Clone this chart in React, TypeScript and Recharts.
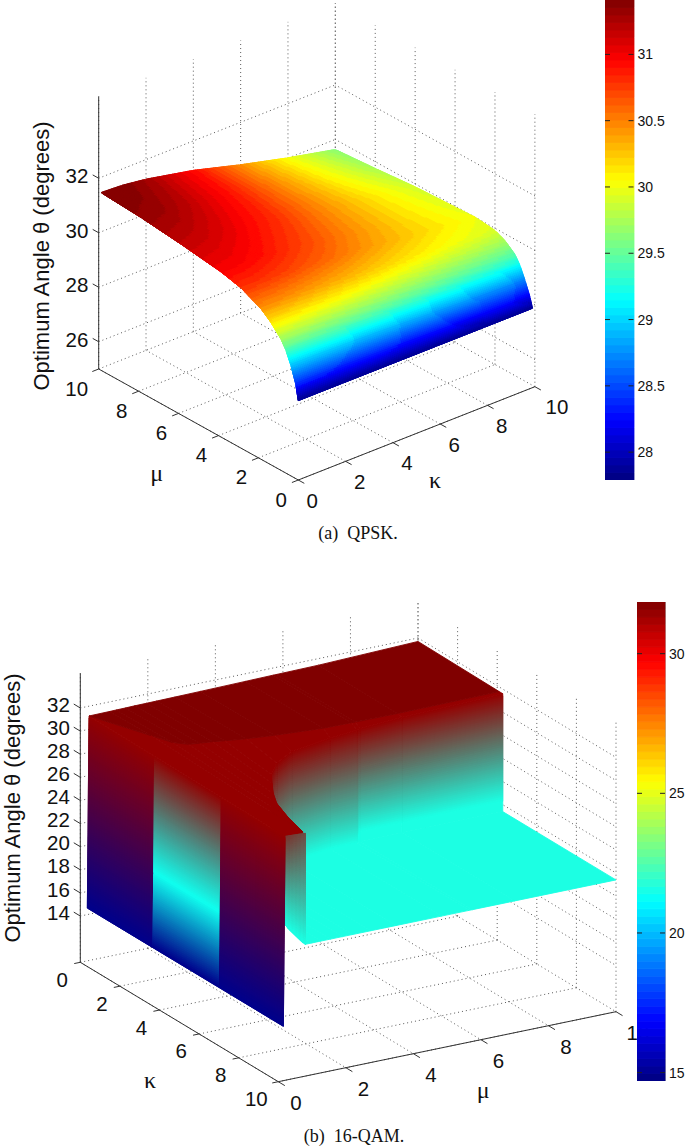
import React from 'react';
import { ScatterChart, Scatter, XAxis, YAxis, BarChart, Bar, ReferenceLine, ReferenceArea } from 'recharts';

// ---------- Panel (a) QPSK: theta over (mu, kappa) ----------
const muGridA = [0.12, 0.25, 0.5, 0.75, 1, 1.5, 2, 3, 4, 6, 8, 10];
const kappaGridA = [0.1, 1, 2, 4, 6, 8, 10];
const thetaA = [
  [27.83, 27.83, 27.83, 27.83, 27.83, 27.83, 27.83],
  [28.4, 28.4, 28.38, 28.34, 28.29, 28.24, 28.2],
  [29.0, 28.99, 28.97, 28.92, 28.84, 28.77, 28.71],
  [29.45, 29.44, 29.42, 29.36, 29.29, 29.21, 29.15],
  [29.75, 29.74, 29.72, 29.66, 29.59, 29.51, 29.45],
  [30.15, 30.14, 30.11, 30.03, 29.93, 29.83, 29.75],
  [30.45, 30.44, 30.4, 30.3, 30.16, 30.03, 29.92],
  [30.8, 30.78, 30.73, 30.57, 30.36, 30.17, 30.0],
  [30.98, 30.96, 30.89, 30.68, 30.42, 30.17, 29.96],
  [31.18, 31.15, 31.06, 30.81, 30.47, 30.16, 29.89],
  [31.34, 31.31, 31.2, 30.88, 30.47, 30.08, 29.75],
  [31.44, 31.4, 31.28, 30.92, 30.44, 30.01, 29.63],
];
const axisTicks = [0, 2, 4, 6, 8, 10];
const zTicksA = [26, 28, 30, 32];
const barTicksA = [28, 28.5, 29, 29.5, 30, 30.5, 31];

// ---------- Panel (b) 16-QAM: a high plateau, a step, a low plateau, a front wall ----------
const stepMu = [10, 7, 5.75, 5.65, 4.83, 3.5, 2.74, 2.2, 1.9, 1.55, 1.265, 1.0, 0.8];
const stepKappa = [4.28, 4.3, 4.32, 4.33, 4.38, 4.7, 5.25, 5.9, 6.43, 7.1, 7.76, 8.8, 9.87];
const bandKappa = [4.1, 4.08, 4.07, 4.06, 4.04, 3.85, 3.7, 3.55, 3.45, 3.38, 3.3, 2.95, 2.2];
const farKappa = [0, 0.1, 0.1, 0.1, 0.1, 0.1, 0.1, 0.1, 0.1, 0.1, 0.1, 0.1, 0.1];
const highTheta = [31.6, 31.4, 31.2, 31.15, 31.0, 31.0, 31.0, 31.0, 31.0, 31.0, 31.0, 31.0, 31.0];
const farTheta = [31.7, 31.57, 31.52, 31.52, 31.48, 31.42, 31.39, 31.37, 31.36, 31.35, 31.33, 31.32, 31.31];
const bandTheta = [31.6, 31.5, 31.5, 31.5, 31.5, 31.5, 31.5, 31.5, 31.5, 31.5, 31.5, 31.45, 31.4];
const kneeTheta = [22.3, 22.3, 22.3, 21.4, 21.4, 21.4, 21.4, 21.4, 21.4, 21.4, 21.4, 21.4, 21.4];
const lowTheta = 21.4;
const edgeMu = 0.2;
const wallBottomMu = 0.15;
const edgeFarTheta = 31.29;
const edgeTheta = 31.1;
const wallBottomTheta = 14.7;
const wallKappa = [0.1, 3.41, 6.78, 10];
const wallTopTheta = [31.29, 31.22, 31.16, 31.1];
const wallMidTheta = [null, 21.2, null];
const zTicksB = [14, 16, 18, 20, 22, 24, 26, 28, 30, 32];
const barTicksB = [15, 20, 25, 30];

const viewA = { ox: 298.3, oy: 480, muX: -19.96, muY: -11.1, kX: 23.66, kY: -9.33, zY: -27.25, z0: 25, zTop: 35 };
const viewB = { ox: 80.3, oy: 962.3, muX: 33.77, muY: -7.0, kX: 19.8, kY: 11.94, zY: -11.56, z0: 10, zTop: 35 };

type V = { mu: number; kappa: number; theta: number; shade?: number; mix?: number };

const project = (w: any, mu: number, kappa: number, theta: number) => ({
  x: w.ox + w.muX * mu + w.kX * kappa,
  y: w.oy + w.muY * mu + w.kY * kappa + w.zY * (theta - w.z0),
});

const clamp = (v: number) => Math.max(0, Math.min(1, v));
const jet = (f: number): number[] => [
  clamp(Math.min(4 * f - 1.5, -4 * f + 4.5)),
  clamp(Math.min(4 * f - 0.5, -4 * f + 3.5)),
  clamp(Math.min(4 * f + 0.5, -4 * f + 2.5)),
];
const css = (c: number[]) => `rgb(${Math.round(c[0] * 255)},${Math.round(c[1] * 255)},${Math.round(c[2] * 255)})`;

const climA = [27.79, 31.41];
const climB = [14.5, 31.65];
const darkShade = 31.65;
const lightShade = 31.3;
const bandColor = (theta: number) => {
  const f = (theta - climA[0]) / (climA[1] - climA[0]);
  const i = Math.max(0, Math.min(63, Math.floor(f * 64)));
  return css(jet((i + 0.5) / 64));
};
const jetB = (s: number) => jet(clamp((s - climB[0]) / (climB[1] - climB[0])));
const vertexColor = (v: V) => {
  if (v.mix != null) {
    const l = jetB(lightShade), c = jetB(lowTheta);
    return l.map((x, i) => x + (c[i] - x) * (v.mix as number));
  }
  return jetB(v.shade ?? v.theta);
};

function bilinear(a: number, b: number, c: number, d: number, u: number, t: number) {
  return a * (1 - u) * (1 - t) + b * u * (1 - t) + c * u * t + d * (1 - u) * t;
}

// One mesh face, drawn as a patch of small flat-coloured polygons, each
// overlapping the next so that no background leaks through between them.
function patch(w: any, q: V[], banded: boolean, step: number) {
  const [a, b, c, d] = q;
  const P = q.map((v) => project(w, v.mu, v.kappa, v.theta));
  const dist = (p: any, r: any) => Math.hypot(p.x - r.x, p.y - r.y);
  const col = q.map(vertexColor);
  const same = (m: number[], n: number[]) => m.every((x, i) => Math.abs(x - n[i]) < 1e-6);
  let nu = Math.max(1, Math.ceil(Math.max(dist(P[0], P[1]), dist(P[3], P[2])) / step));
  let nv = Math.max(1, Math.ceil(Math.max(dist(P[0], P[3]), dist(P[1], P[2])) / step));
  if (!banded && same(col[0], col[1]) && same(col[3], col[2])) nu = 1;
  if (!banded && same(col[0], col[3]) && same(col[1], col[2])) nv = 1;
  const at = (u: number, t: number) =>
    project(
      w,
      bilinear(a.mu, b.mu, c.mu, d.mu, u, t),
      bilinear(a.kappa, b.kappa, c.kappa, d.kappa, u, t),
      bilinear(a.theta, b.theta, c.theta, d.theta, u, t),
    );
  const polys: { pts: number[][]; fill: string }[] = [];
  for (let i = 0; i < nu; i++) {
    for (let j = 0; j < nv; j++) {
      const u0 = i / nu, u1 = Math.min(1, (i + 2) / nu), t0 = j / nv, t1 = Math.min(1, (j + 2) / nv);
      const um = (i + 0.5) / nu, tm = (j + 0.5) / nv;
      const corners = [at(u0, t0), at(u1, t0), at(u1, t1), at(u0, t1)].map((p) => [p.x, p.y]);
      const fill = banded
        ? bandColor(bilinear(a.theta, b.theta, c.theta, d.theta, um, tm))
        : css([0, 1, 2].map((k) => bilinear(col[0][k], col[1][k], col[2][k], col[3][k], um, tm)));
      polys.push({ pts: corners, fill });
    }
  }
  const centre = at(0.5, 0.5);
  return { x: centre.x, y: centre.y, polys };
}

const PatchShape = (props: any) => {
  const { cx, cy, payload } = props;
  const dx = cx - payload.x;
  const dy = cy - payload.y;
  return (
    <g>
      {payload.polys.map((p: any, i: number) => (
        <polygon
          key={i}
          points={p.pts.map((r: number[]) => `${(r[0] + dx).toFixed(2)},${(r[1] + dy).toFixed(2)}`).join(' ')}
          fill={p.fill}
          stroke={p.fill}
          strokeWidth={0.9}
        />
      ))}
    </g>
  );
};

const SegShape = (stroke: string, dash?: string) => (props: any) => {
  const { cx, cy, payload } = props;
  return (
    <line
      x1={cx}
      y1={cy}
      x2={cx + payload.x2 - payload.x}
      y2={cy + payload.y2 - payload.y}
      stroke={stroke}
      strokeWidth={1}
      strokeDasharray={dash}
    />
  );
};
const dottedShape = SegShape('#5a5a5a', '1 3');
const solidShape = SegShape('#333333');

const TextShape = (props: any) => {
  const { cx, cy, payload } = props;
  return (
    <text
      x={cx}
      y={cy}
      dy={payload.rotate ? 0 : '.35em'}
      textAnchor={payload.anchor ?? 'middle'}
      fontFamily={payload.family ?? '"Liberation Sans"'}
      fontSize={payload.size ?? 20.5}
      fill="#111"
      transform={payload.rotate ? `rotate(-90 ${cx} ${cy})` : undefined}
      style={{ whiteSpace: 'pre' }}
    >
      {payload.text}
    </text>
  );
};

const seg = (w: any, p: number[], r: number[]) => {
  const s = project(w, p[0], p[1], p[2]);
  const e = project(w, r[0], r[1], r[2]);
  return { x: s.x, y: s.y, x2: e.x, y2: e.y };
};

function gridSegments(w: any, zTicks: number[], wallM: number, wallK: number) {
  const out: any[] = [];
  axisTicks.forEach((t) => {
    out.push(seg(w, [t, 0, w.z0], [t, 10, w.z0]));
    out.push(seg(w, [0, t, w.z0], [10, t, w.z0]));
    out.push(seg(w, [t, wallK, w.z0], [t, wallK, w.zTop]));
    out.push(seg(w, [wallM, t, w.z0], [wallM, t, w.zTop]));
  });
  zTicks.forEach((z) => {
    out.push(seg(w, [wallM, 0, z], [wallM, 10, z]));
    out.push(seg(w, [0, wallK, z], [10, wallK, z]));
  });
  return out;
}

// ---------- Panel (a) marks ----------
const gridA = gridSegments(viewA, zTicksA, 10, 10);
const axesA = [
  seg(viewA, [10, 0, 25], [10, 0, 35]),
  seg(viewA, [10, 0, 25], [0, 0, 25]),
  seg(viewA, [0, 0, 25], [0, 10, 25]),
  ...axisTicks.map((t) => seg(viewA, [t, 0, 25], [t, -0.27, 25])),
  ...axisTicks.map((t) => seg(viewA, [0, t, 25], [-0.3, t, 25])),
  ...zTicksA.map((z) => seg(viewA, [10, 0, z], [10.3, 0, z])),
];
const surfaceA: any[] = [];
for (let i = muGridA.length - 2; i >= 0; i--) {
  for (let j = kappaGridA.length - 2; j >= 0; j--) {
    const v = (r: number, c: number): V => ({ mu: muGridA[r], kappa: kappaGridA[c], theta: thetaA[r][c] });
    surfaceA.push(patch(viewA, [v(i + 1, j + 1), v(i + 1, j), v(i, j), v(i, j + 1)], true, 2));
  }
}
const labelsA: any[] = [
  ...zTicksA.map((z) => {
    const p = project(viewA, 10, 0, z);
    return { x: p.x - 10.4, y: p.y - 2, text: String(z), anchor: 'end' };
  }),
  ...axisTicks.map((t) => {
    const p = project(viewA, t, 0, 25);
    return { x: p.x - (t === 10 ? 22 : 17), y: p.y + 19.5, text: String(t) };
  }),
  ...axisTicks.map((t) => {
    const p = project(viewA, 0, t, 25);
    return { x: p.x + (t === 10 ? 22 : 14), y: p.y + 20.4, text: String(t) };
  }),
  { x: 156.7, y: 473, text: 'μ', family: '"Liberation Serif"', size: 24 },
  { x: 435, y: 480, text: 'κ', family: '"Liberation Serif"', size: 24 },
  { x: 49, y: 256, text: 'Optimum Angle θ (degrees)', rotate: true, size: 22 },
  { x: 358, y: 533, text: '(a)  QPSK.', family: '"Liberation Serif"', size: 18 },
];

// ---------- Panel (b) marks ----------
const gridB = gridSegments(viewB, zTicksB, 10, 0);
const axesB = [
  seg(viewB, [0, 0, 10], [0, 0, 35]),
  seg(viewB, [0, 0, 10], [0, 10, 10]),
  seg(viewB, [0, 10, 10], [10, 10, 10]),
  ...axisTicks.map((t) => seg(viewB, [0, t, 10], [-0.18, t, 10])),
  ...axisTicks.map((t) => seg(viewB, [t, 10, 10], [t, 10.33, 10])),
  ...zTicksB.map((z) => seg(viewB, [0, 0, z], [0, -0.33, z])),
];
const surfaceB: any[] = [];
{
  const last = stepMu.length - 1;
  const rows = stepMu
    .map((m, i) => ({ mu: m, fk: farKappa[i], kb: bandKappa[i], ks: stepKappa[i], th: highTheta[i], far: farTheta[i], band: bandTheta[i], knee: kneeTheta[i] }))
    .concat([{ mu: edgeMu, fk: 0.1, kb: 0.1, ks: 10, th: edgeTheta, far: edgeFarTheta, band: edgeFarTheta, knee: lowTheta }]);
  // step wall down to the low plateau (drawn first: its far side lies under the high plateau)
  for (let i = 0; i < last; i++) {
    const r = rows[i], n = rows[i + 1];
    surfaceB.push(
      patch(viewB, [
        { mu: r.mu, kappa: r.ks, theta: r.th, shade: lightShade },
        { mu: n.mu, kappa: n.ks, theta: n.th, shade: lightShade },
        { mu: n.mu, kappa: n.ks, theta: n.knee, shade: lowTheta },
        { mu: r.mu, kappa: r.ks, theta: r.knee, shade: lowTheta },
      ], false, 2),
    );
    surfaceB.push(
      patch(viewB, [
        { mu: r.mu, kappa: r.ks, theta: r.knee, shade: lowTheta },
        { mu: n.mu, kappa: n.ks, theta: n.knee, shade: lowTheta },
        { mu: n.mu, kappa: n.ks, theta: lowTheta },
        { mu: r.mu, kappa: r.ks, theta: lowTheta },
      ], false, 2),
    );
  }
  // low plateau
  for (let i = 0; i < last; i++) {
    const r = rows[i], n = rows[i + 1];
    surfaceB.push(
      patch(viewB, [
        { mu: r.mu, kappa: r.ks, theta: lowTheta },
        { mu: r.mu, kappa: 10, theta: lowTheta },
        { mu: n.mu, kappa: 10, theta: lowTheta },
        { mu: n.mu, kappa: n.ks, theta: lowTheta },
      ], false, 2),
    );
  }
  // high plateau: lighter band, then the dark part behind it
  for (let i = 0; i < rows.length - 1; i++) {
    const r = rows[i], n = rows[i + 1];
    surfaceB.push(
      patch(viewB, [
        { mu: r.mu, kappa: r.kb, theta: r.band, shade: lightShade },
        { mu: r.mu, kappa: r.ks, theta: r.th, shade: lightShade },
        { mu: n.mu, kappa: n.ks, theta: n.th, shade: lightShade },
        { mu: n.mu, kappa: n.kb, theta: n.band, shade: lightShade },
      ], false, 2),
    );
    surfaceB.push(
      patch(viewB, [
        { mu: r.mu, kappa: r.fk, theta: r.far, shade: darkShade },
        { mu: r.mu, kappa: r.kb, theta: r.band, shade: darkShade },
        { mu: n.mu, kappa: n.kb, theta: n.band, shade: darkShade },
        { mu: n.mu, kappa: n.fk, theta: n.far, shade: darkShade },
      ], false, 2),
    );
  }
  // small end face
  surfaceB.push(
    patch(viewB, [
      { mu: edgeMu, kappa: 10, theta: edgeTheta, mix: 0.2 },
      { mu: 0.8, kappa: 10, theta: 31.0, mix: 0.3 },
      { mu: 0.8, kappa: 10, theta: lowTheta },
      { mu: edgeMu, kappa: 10, theta: 23.5, shade: lowTheta },
    ], false, 2),
  );
  // front wall stripes
  wallMidTheta.forEach((mid, s) => {
    const k0 = wallKappa[s], k1 = wallKappa[s + 1];
    const top = (k: number, i: number): V => ({ mu: edgeMu, kappa: k, theta: wallTopTheta[i], shade: lightShade });
    const bot = (k: number): V => ({ mu: wallBottomMu, kappa: k, theta: wallBottomTheta });
    if (mid == null) {
      surfaceB.push(patch(viewB, [top(k0, s), top(k1, s + 1), bot(k1), bot(k0)], false, 2));
    } else {
      const m = (k: number): V => ({ mu: (edgeMu + wallBottomMu) / 2, kappa: k, theta: mid });
      surfaceB.push(patch(viewB, [top(k0, s), top(k1, s + 1), m(k1), m(k0)], false, 2));
      surfaceB.push(patch(viewB, [m(k0), m(k1), bot(k1), bot(k0)], false, 2));
    }
  });
}
const labelsB: any[] = [
  ...zTicksB.map((z) => {
    const p = project(viewB, 0, 0, z);
    return { x: p.x - 10.4, y: p.y - 3.5, text: String(z), anchor: 'end' };
  }),
  ...axisTicks.map((t) => {
    const p = project(viewB, 0, t, 10);
    return { x: p.x - (t === 10 ? 22 : 18), y: p.y + 17.3, text: String(t) };
  }),
  ...axisTicks.map((t) => {
    const p = project(viewB, t, 10, 10);
    return { x: p.x + (t === 10 ? 22 : 17.6), y: p.y + 21.3, text: String(t) };
  }),
  { x: 150, y: 1080, text: 'κ', family: '"Liberation Serif"', size: 24 },
  { x: 483.3, y: 1090, text: 'μ', family: '"Liberation Serif"', size: 24 },
  { x: 20, y: 808, text: 'Optimum Angle θ (degrees)', rotate: true, size: 22 },
  { x: 354, y: 1136, text: '(b)  16-QAM.', family: '"Liberation Serif"', size: 18 },
];

const Panel3D = ({ top, height, grid, axes, surface, labels }: any) => (
  <div style={{ position: 'absolute', left: 0, top }}>
    <ScatterChart width={685} height={height} margin={{ top: 0, right: 0, bottom: 0, left: 0 }}>
      <XAxis type="number" dataKey="x" domain={[0, 685]} hide allowDataOverflow />
      <YAxis type="number" dataKey="y" domain={[top, top + height]} reversed hide allowDataOverflow />
      <Scatter data={grid} shape={dottedShape} isAnimationActive={false} />
      <Scatter data={axes} shape={solidShape} isAnimationActive={false} />
      <Scatter data={surface} shape={PatchShape} isAnimationActive={false} />
      <Scatter data={labels} shape={TextShape} isAnimationActive={false} />
    </ScatterChart>
  </div>
);

const Colorbar = ({ left, top, barWidth, height, min, max, ticks, id }: any) => {
  const levels = Array.from({ length: 64 }, (_, i) => i);
  const stepSize = (max - min) / 64;
  const row: any = { name: id, base: min };
  levels.forEach((i) => (row[`b${i}`] = stepSize));
  return (
    <div style={{ position: 'absolute', left, top }}>
      <BarChart
        width={barWidth + 48}
        height={height}
        data={[row]}
        margin={{ top: 0, right: 0, bottom: 0, left: 0 }}
        barCategoryGap={0}
      >
        <XAxis dataKey="name" hide />
        <YAxis
          type="number"
          orientation="right"
          width={48}
          domain={[min, max]}
          ticks={ticks}
          interval={0}
          allowDataOverflow
          axisLine={false}
          tickLine={false}
          tickSize={0}
          tickMargin={4}
          tick={{ fontSize: 14, fill: '#111', fontFamily: '"Liberation Sans"', textAnchor: 'start' }}
        />
        <Bar dataKey="base" stackId="c" fill="none" isAnimationActive={false} />
        {levels.map((i) => (
          <Bar
            key={i}
            dataKey={`b${i}`}
            stackId="c"
            fill={css(jet((i + 0.5) / 64))}
            stroke={css(jet((i + 0.5) / 64))}
            strokeWidth={0.8}
            isAnimationActive={false}
          />
        ))}
        <ReferenceArea y1={min} y2={max} fill="none" stroke="#666" strokeWidth={1} />
        {ticks.map((t: number) => (
          <ReferenceLine key={t} y={t} stroke="#222" strokeDasharray={`5 ${barWidth - 10} 5`} />
        ))}
      </BarChart>
    </div>
  );
};

export default function App() {
  return (
    <div style={{ position: 'absolute', left: 0, top: 0, width: 685, height: 1147, background: '#fff', overflow: 'hidden' }}>
      <Panel3D top={0} height={573} grid={gridA} axes={axesA} surface={surfaceA} labels={labelsA} />
      <Panel3D top={573} height={574} grid={gridB} axes={axesB} surface={surfaceB} labels={labelsB} />
      <Colorbar id="a" left={605} top={0} barWidth={28.5} height={480} min={27.79} max={31.41} ticks={barTicksA} />
      <Colorbar id="b" left={637} top={602} barWidth={28} height={479} min={14.7} max={31.85} ticks={barTicksB} />
    </div>
  );
}
